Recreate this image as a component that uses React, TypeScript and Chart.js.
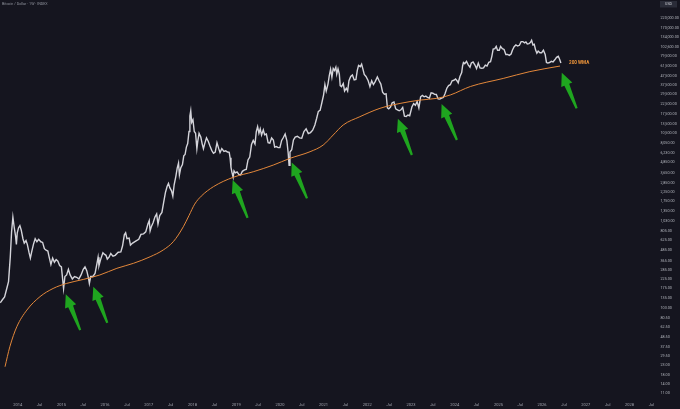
import { useEffect, useRef } from 'react';
import { Chart, registerables } from 'chart.js';

Chart.register(...registerables);

// ---- DATA (decimal year, USD price) ----
const priceSeries: [number, number][] = [
  [2013.60, 120], [2013.65, 130], [2013.70, 140], [2013.75, 175], [2013.79, 210], [2013.83, 400], [2013.86, 780], [2013.89, 1150], [2013.92, 880], [2013.95, 700], [2013.97, 560], [2013.99, 760],
  [2014.02, 870], [2014.05, 920], [2014.08, 820], [2014.12, 650], [2014.15, 580], [2014.19, 620], [2014.22, 560], [2014.26, 450], [2014.29, 390], [2014.32, 460], [2014.36, 560], [2014.40, 650], [2014.44, 600], [2014.48, 640], [2014.53, 600], [2014.57, 590], [2014.61, 500], [2014.65, 480], [2014.69, 470], [2014.72, 400], [2014.76, 330], [2014.80, 390], [2014.84, 350], [2014.88, 375], [2014.92, 360], [2014.96, 320],
  [2015.00, 310], [2015.03, 220], [2015.05, 175], [2015.08, 240], [2015.12, 250], [2015.16, 290], [2015.20, 250], [2015.25, 225], [2015.30, 240], [2015.35, 235], [2015.40, 225], [2015.45, 250], [2015.50, 290], [2015.54, 310], [2015.58, 280], [2015.62, 230], [2015.64, 200], [2015.67, 240], [2015.72, 240], [2015.77, 260], [2015.81, 330], [2015.84, 400], [2015.86, 320], [2015.90, 380], [2015.95, 450], [2015.99, 430],
  [2016.02, 420], [2016.05, 380], [2016.09, 400], [2016.13, 440], [2016.18, 410], [2016.23, 420], [2016.30, 455], [2016.36, 460], [2016.40, 540], [2016.44, 720], [2016.47, 760], [2016.50, 650], [2016.55, 660], [2016.58, 550], [2016.63, 580], [2016.70, 610], [2016.77, 640], [2016.82, 730], [2016.88, 740], [2016.93, 780], [2016.98, 960],
  [2017.01, 1050], [2017.03, 800], [2017.06, 900], [2017.10, 1000], [2017.14, 1150], [2017.18, 1250], [2017.21, 960], [2017.25, 1200], [2017.30, 1300], [2017.34, 1700], [2017.38, 2200], [2017.42, 2600], [2017.45, 2800], [2017.48, 2500], [2017.52, 2300], [2017.55, 2000], [2017.58, 2700], [2017.62, 3400], [2017.65, 4200], [2017.68, 4800], [2017.70, 3500], [2017.73, 4200], [2017.77, 4600], [2017.80, 5800], [2017.83, 6000], [2017.86, 7300], [2017.89, 8000], [2017.92, 11000], [2017.94, 16500], [2017.96, 19000], [2017.98, 14000],
  [2018.01, 15000], [2018.04, 11000], [2018.07, 10500], [2018.10, 7000], [2018.12, 8500], [2018.15, 10500], [2018.19, 9500], [2018.22, 8000], [2018.25, 7000], [2018.28, 8000], [2018.32, 9300], [2018.36, 8500], [2018.40, 7500], [2018.44, 6700], [2018.48, 6200], [2018.52, 6400], [2018.56, 8200], [2018.60, 7000], [2018.63, 6300], [2018.67, 7000], [2018.72, 6500], [2018.76, 6600], [2018.80, 6400], [2018.84, 6350], [2018.86, 5500], [2018.88, 4300], [2018.90, 3800], [2018.93, 3300], [2018.95, 3900], [2018.98, 3700],
  [2019.02, 3800], [2019.06, 3550], [2019.10, 3500], [2019.14, 3850], [2019.19, 4000], [2019.23, 4050], [2019.27, 5200], [2019.31, 5600], [2019.35, 7800], [2019.39, 8700], [2019.43, 7900], [2019.46, 11000], [2019.49, 12500], [2019.52, 10500], [2019.55, 11800], [2019.58, 10000], [2019.62, 11500], [2019.65, 10100], [2019.69, 10300], [2019.73, 8200], [2019.77, 8100], [2019.81, 9300], [2019.85, 8800], [2019.88, 7300], [2019.92, 7400], [2019.96, 7200],
  [2020.00, 7200], [2020.04, 8700], [2020.08, 9400], [2020.12, 10300], [2020.16, 8600], [2020.19, 6200], [2020.21, 4500], [2020.23, 6400], [2020.27, 6800], [2020.31, 8800], [2020.35, 9500], [2020.40, 9700], [2020.45, 9300], [2020.50, 9200], [2020.55, 11000], [2020.60, 11800], [2020.65, 10400], [2020.70, 10700], [2020.75, 11400], [2020.80, 13100], [2020.84, 15500], [2020.88, 18700], [2020.92, 19200], [2020.96, 23500],
  [2021.00, 29000], [2021.03, 38000], [2021.06, 32000], [2021.10, 38500], [2021.13, 48000], [2021.16, 57000], [2021.19, 46000], [2021.22, 58000], [2021.25, 55000], [2021.28, 60000], [2021.30, 50000], [2021.33, 57500], [2021.36, 50000], [2021.38, 37000], [2021.41, 36000], [2021.45, 39000], [2021.48, 32000], [2021.52, 34500], [2021.55, 32000], [2021.58, 42000], [2021.62, 47000], [2021.66, 49000], [2021.70, 43000], [2021.74, 43500], [2021.77, 55000], [2021.80, 63000], [2021.84, 61000], [2021.87, 65000], [2021.90, 57000], [2021.93, 49500], [2021.97, 47000],
  [2022.02, 42000], [2022.06, 36000], [2022.10, 42000], [2022.14, 38000], [2022.18, 41000], [2022.23, 46500], [2022.27, 42000], [2022.31, 38500], [2022.35, 31000], [2022.39, 29500], [2022.43, 29800], [2022.46, 20500], [2022.49, 20000], [2022.53, 21000], [2022.57, 23500], [2022.61, 24000], [2022.65, 20000], [2022.69, 19500], [2022.73, 19000], [2022.77, 19500], [2022.81, 20800], [2022.85, 16500], [2022.89, 16400], [2022.93, 17000], [2022.97, 16700],
  [2023.02, 21000], [2023.06, 23000], [2023.10, 22000], [2023.14, 24300], [2023.18, 20500], [2023.22, 27500], [2023.26, 28500], [2023.30, 27500], [2023.34, 28000], [2023.38, 27000], [2023.42, 26500], [2023.46, 30500], [2023.50, 30200], [2023.54, 29300], [2023.58, 29200], [2023.62, 26000], [2023.66, 25900], [2023.70, 26500], [2023.74, 27000], [2023.78, 30000], [2023.82, 34500], [2023.86, 37000], [2023.90, 37800], [2023.94, 42000], [2023.98, 42500],
  [2024.02, 44000], [2024.06, 41500], [2024.08, 39800], [2024.12, 47000], [2024.16, 52000], [2024.18, 62000], [2024.20, 68000], [2024.23, 66000], [2024.27, 70000], [2024.31, 64000], [2024.35, 60000], [2024.38, 67000], [2024.42, 69000], [2024.46, 64000], [2024.50, 58000], [2024.54, 67000], [2024.58, 59000], [2024.62, 58500], [2024.66, 59000], [2024.70, 63500], [2024.74, 62000], [2024.78, 68500], [2024.82, 69500], [2024.85, 80000], [2024.88, 97000], [2024.92, 98000], [2024.95, 104000], [2024.98, 94000],
  [2025.02, 94000], [2025.05, 104000], [2025.09, 98000], [2025.13, 96000], [2025.17, 84000], [2025.21, 84000], [2025.25, 82000], [2025.29, 85000], [2025.32, 94000], [2025.36, 103000], [2025.40, 108000], [2025.44, 105000], [2025.48, 107000], [2025.52, 118000], [2025.56, 118000], [2025.60, 114000], [2025.63, 117000], [2025.66, 111000], [2025.70, 112000], [2025.73, 115000], [2025.76, 122000], [2025.79, 108000], [2025.82, 110000], [2025.85, 95000], [2025.88, 87000], [2025.91, 92000], [2025.95, 88000], [2025.99, 88000],
  [2026.03, 94000], [2026.07, 84000], [2026.10, 68000], [2026.13, 67000], [2026.17, 68000], [2026.21, 70000], [2026.25, 69000], [2026.29, 73000], [2026.33, 78000], [2026.37, 80000], [2026.40, 74000], [2026.43, 67000],
];

const wmaSeries: [number, number][] = [
  [2013.71, 22.2], [2013.82, 37.6], [2013.98, 63.8], [2014.21, 99], [2014.51, 141], [2014.81, 175],
  [2015.12, 200], [2015.50, 222], [2015.88, 250], [2016.27, 298], [2016.65, 340], [2017.03, 404],
  [2017.33, 483], [2017.56, 601], [2017.79, 892], [2017.92, 1200], [2018.05, 1620], [2018.20, 2000],
  [2018.48, 2570], [2018.93, 3287], [2019.39, 3806], [2019.85, 4545], [2020.23, 5420], [2020.69, 6460],
  [2020.99, 7700], [2021.22, 10040], [2021.45, 13090], [2021.83, 16260], [2022.29, 20290], [2022.75, 23090],
  [2023.21, 25230], [2023.59, 26400], [2023.90, 28870], [2024.36, 36100], [2025.11, 44640],
  [2025.72, 53460], [2026.41, 61930],
];

// arrows: tip and tail, both as [decimal year, price]
const arrowTips: [number, number][] = [
  [2015.10, 150], [2015.73, 183], [2018.92, 3060], [2020.27, 4870], [2022.70, 15420], [2023.70, 22700], [2026.45, 51900],
];
const arrowTails: [number, number][] = [
  [2015.43, 58.4], [2016.05, 70.8], [2019.26, 1129], [2020.62, 1884], [2023.02, 5920], [2024.05, 8790], [2026.79, 20300],
];

const yTickValues = [
  11, 14, 18, 23, 29.5, 37.5, 48.5, 62.5, 80.5, 103, 135, 175, 225, 285, 365, 485, 625, 805,
  1030, 1350, 1750, 2250, 2850, 3650, 4850, 6230, 8050, 10500, 13500, 17500, 22500, 29500,
  37500, 47500, 61500, 79500, 102600, 134000, 170000, 220000,
];

const xTickValues = [
  2014, 2014.5, 2015, 2015.5, 2016, 2016.5, 2017, 2017.5, 2018, 2018.5, 2019, 2019.5, 2020, 2020.5,
  2021, 2021.5, 2022, 2022.5, 2023, 2023.5, 2024, 2024.5, 2025, 2025.5, 2026, 2026.5, 2027, 2027.5,
  2028, 2028.5,
];
const xTickLabels = [
  '2014', 'Jul', '2015', 'Jul', '2016', 'Jul', '2017', 'Jul', '2018', 'Jul', '2019', 'Jul', '2020', 'Jul',
  '2021', 'Jul', '2022', 'Jul', '2023', 'Jul', '2024', 'Jul', '2025', 'Jul', '2026', 'Jul', '2027', 'Jul',
  '2028', 'Jul',
];

const titleText = 'Bitcoin / Dollar · 1W · INDEX';
const wmaLabel = '200 WMA';
const currencyLabel = 'USD';

const X_MIN = 2013.595;
const X_MAX = 2028.652;
const Y_MIN = 9.23;
const Y_MAX = 353600;

const BG = '#15151f';
const FONT = 'Roboto, "Noto Sans", sans-serif';

export default function App() {
  const ref = useRef<HTMLCanvasElement | null>(null);

  useEffect(() => {
    if (!ref.current) return;
    document.body.style.margin = '0';
    document.body.style.background = BG;

    const overlay = {
      id: 'overlay',
      beforeDraw(chart: any) {
        const { ctx, width, height } = chart;
        ctx.save();
        ctx.fillStyle = BG;
        ctx.fillRect(0, 0, width, height);
        ctx.restore();
      },
      afterDatasetsDraw(chart: any) {
        const { ctx, scales } = chart;
        const xs = scales.x;
        const ys = scales.y;
        ctx.save();
        // green arrows
        ctx.fillStyle = '#1fa51f';
        arrowTips.forEach((tip, i) => {
          const tail = arrowTails[i];
          const tx = xs.getPixelForValue(tip[0]);
          const ty = ys.getPixelForValue(tip[1]);
          const ax = xs.getPixelForValue(tail[0]);
          const ay = ys.getPixelForValue(tail[1]);
          const dx = tx - ax;
          const dy = ty - ay;
          const len = Math.hypot(dx, dy);
          const ux = dx / len;
          const uy = dy / len;
          const px = -uy;
          const py = ux;
          const headLen = 13;
          const headHalf = 6;
          const neckHalf = 2.6;
          const tailHalf = 1.1;
          const bx = tx - ux * headLen;
          const by = ty - uy * headLen;
          ctx.beginPath();
          ctx.moveTo(tx, ty);
          ctx.lineTo(bx + px * headHalf, by + py * headHalf);
          ctx.lineTo(bx + px * neckHalf, by + py * neckHalf);
          ctx.lineTo(ax + px * tailHalf, ay + py * tailHalf);
          ctx.lineTo(ax - px * tailHalf, ay - py * tailHalf);
          ctx.lineTo(bx - px * neckHalf, by - py * neckHalf);
          ctx.lineTo(bx - px * headHalf, by - py * headHalf);
          ctx.closePath();
          ctx.fill();
        });
        // 200 WMA label next to the last WMA value
        const last = wmaSeries[wmaSeries.length - 1];
        const lx = xs.getPixelForValue(last[0]);
        const ly = ys.getPixelForValue(last[1]);
        ctx.fillStyle = '#f0963a';
        ctx.font = `bold 4.6px ${FONT}`;
        ctx.textBaseline = 'middle';
        ctx.textAlign = 'left';
        ctx.fillText(wmaLabel, lx + 9, ly - 3);
        ctx.restore();
      },
      afterDraw(chart: any) {
        const { ctx, width } = chart;
        ctx.save();
        ctx.fillStyle = '#8d909a';
        ctx.font = `3.7px ${FONT}`;
        ctx.textBaseline = 'middle';
        ctx.textAlign = 'left';
        ctx.fillText(titleText, 2, 3.8);
        // currency box
        ctx.fillStyle = '#2a2c38';
        ctx.fillRect(width - 20, 1, 17, 6.5);
        ctx.fillStyle = '#d0d2d8';
        ctx.font = `3.6px ${FONT}`;
        ctx.textAlign = 'center';
        ctx.fillText(currencyLabel, width - 11.5, 4.3);
        ctx.restore();
      },
    };

    const chart = new Chart(ref.current, {
      type: 'line',
      data: {
        datasets: [
          {
            label: 'BTC',
            data: priceSeries.map(([t, p]) => ({ x: t, y: p })),
            borderColor: '#d4d4da',
            borderWidth: 1.4,
            borderJoinStyle: 'miter',
            pointRadius: 0,
            tension: 0,
            order: 2,
          },
          {
            label: '200 WMA',
            data: wmaSeries.map(([t, p]) => ({ x: t, y: p })),
            borderColor: '#e3873a',
            borderWidth: 1,
            pointRadius: 0,
            cubicInterpolationMode: 'monotone',
            order: 1,
          },
        ],
      },
      options: {
        responsive: false,
        animation: false,
        devicePixelRatio: 1,
        layout: { padding: 0 },
        events: [],
        plugins: {
          legend: { display: false },
          tooltip: { enabled: false },
        },
        scales: {
          x: {
            type: 'linear',
            min: X_MIN,
            max: X_MAX,
            grid: { display: false, drawTicks: false },
            border: { display: false },
            afterBuildTicks: (s: any) => {
              s.ticks = xTickValues.map((v) => ({ value: v }));
            },
            afterFit: (s: any) => {
              s.height = 9;
              s.paddingLeft = 0;
              s.paddingRight = 0;
            },
            ticks: {
              autoSkip: false,
              maxRotation: 0,
              padding: 2.6,
              color: '#a3a6af',
              font: { size: 4, family: FONT },
              callback: (v: any) => {
                const i = xTickValues.indexOf(Number(v));
                return i >= 0 ? xTickLabels[i] : '';
              },
            },
          },
          y: {
            type: 'logarithmic',
            position: 'right',
            min: Y_MIN,
            max: Y_MAX,
            grid: { display: false, drawTicks: false },
            border: { display: false },
            afterBuildTicks: (s: any) => {
              s.ticks = yTickValues.map((v) => ({ value: v }));
            },
            afterFit: (s: any) => {
              s.width = 22;
              s.paddingTop = 0;
              s.paddingBottom = 0;
            },
            ticks: {
              autoSkip: false,
              padding: 2.5,
              color: '#b4b7bf',
              font: { size: 3.7, family: FONT },
              callback: (v: any) =>
                Number(v).toLocaleString('en-US', { minimumFractionDigits: 2, maximumFractionDigits: 2 }),
            },
          },
        },
      },
      plugins: [overlay],
    } as any);

    return () => chart.destroy();
  }, []);

  return (
    <div style={{ position: 'fixed', left: 0, top: 0, width: 680, height: 409, background: BG }}>
      <canvas ref={ref} width={680} height={409} style={{ display: 'block' }} />
    </div>
  );
}
